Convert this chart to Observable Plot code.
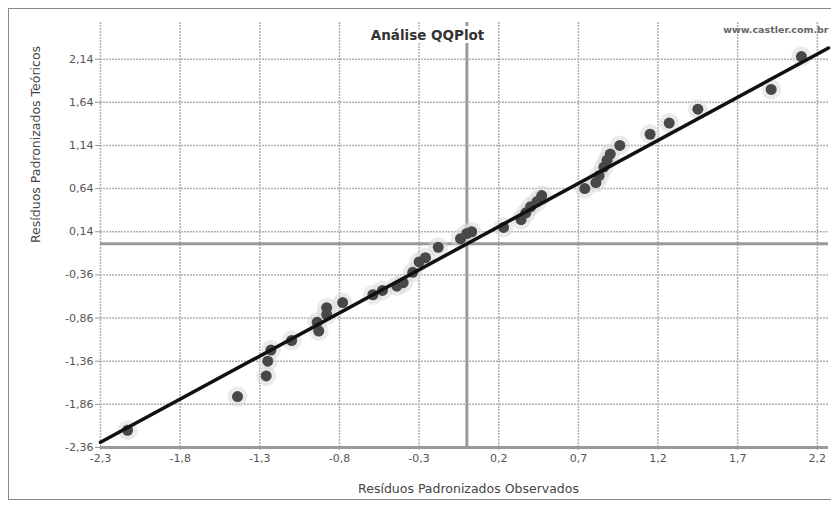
<!DOCTYPE html>
<html>
<head>
<meta charset="utf-8">
<script src="https://cdn.jsdelivr.net/npm/d3@7"></script>
<script src="https://cdn.jsdelivr.net/npm/@observablehq/plot@0.6"></script>
<style>
  body { margin: 0; background: #fff; }
  #wrap { position: relative; width: 831px; height: 508px; overflow: hidden; }
  #frame { position: absolute; left: 8px; top: 8px; width: 830px; height: 492px; border: 1px solid #8a8a8a; box-sizing: border-box; pointer-events: none; }
</style>
</head>
<body>
<div id="wrap"><div id="frame"></div></div>
<script>
const xTicks = [-2.3, -1.8, -1.3, -0.8, -0.3, 0.2, 0.7, 1.2, 1.7, 2.2];
const xTickLabels = ["-2,3", "-1,8", "-1,3", "-0,8", "-0,3", "0,2", "0,7", "1,2", "1,7", "2,2"];
const yTicks = [2.14, 1.64, 1.14, 0.64, 0.14, -0.36, -0.86, -1.36, -1.86, -2.36];
const yTickLabels = ["2,14", "1,64", "1,14", "0,64", "0,14", "-0,36", "-0,86", "-1,36", "-1,86", "-2,36"];

// Observed standardized residuals (x) vs theoretical (y)
const observed = [-2.13, -1.44, -1.26, -1.25, -1.23, -1.10, -0.93, -0.94, -0.88, -0.88,
                  -0.78, -0.59, -0.53, -0.44, -0.40, -0.34, -0.30, -0.26, -0.18, -0.04,
                   0.00,  0.03,  0.23,  0.34,  0.37,  0.40,  0.44,  0.47,  0.74,  0.81,
                   0.83,  0.86,  0.88,  0.90,  0.96,  1.15,  1.27,  1.45,  1.91,  2.10];
const theoretical = [-2.16, -1.77, -1.53, -1.36, -1.23, -1.12, -1.01, -0.91, -0.82, -0.74,
                     -0.68, -0.59, -0.54, -0.49, -0.45, -0.33, -0.21, -0.16, -0.04,  0.06,
                      0.12,  0.14,  0.19,  0.28,  0.36,  0.43,  0.49,  0.56,  0.64,  0.71,
                      0.79,  0.89,  0.97,  1.04,  1.14,  1.27,  1.40,  1.56,  1.79,  2.17];
const lineX = [-2.3, 2.27];
const lineY = [-2.3, 2.27];

const pts = observed.map((x, i) => ({x, y: theoretical[i]}));
const ref = lineX.map((x, i) => ({x, y: lineY[i]}));
const xLab = new Map(xTicks.map((t, i) => [t, xTickLabels[i]]));
const yLab = new Map(yTicks.map((t, i) => [t, yTickLabels[i]]));

const gridStyle = {stroke: "#b0b0b0", strokeOpacity: 1, strokeWidth: 1.5, strokeDasharray: "2,1"};

const chart = Plot.plot({
  width: 831,
  height: 508,
  marginLeft: 100,
  marginRight: 3,
  marginTop: 22,
  marginBottom: 61,
  style: {fontFamily: "DejaVu Sans", background: "transparent"},
  x: {domain: [-2.3, 2.27]},
  y: {domain: [-2.36, 2.565]},
  marks: [
    Plot.gridX(xTicks, gridStyle),
    Plot.gridY(yTicks, gridStyle),
    Plot.ruleX([0], {stroke: "#9a9a9a", strokeWidth: 3}),
    Plot.ruleY([0], {stroke: "#9a9a9a", strokeWidth: 3}),
    Plot.ruleY([-2.36], {stroke: "#9a9a9a", strokeWidth: 3}),
    Plot.dot(pts, {x: "x", y: "y", r: 10, fill: "#d8d8d8", fillOpacity: 0.5, stroke: "none"}),
    Plot.dot(pts, {x: "x", y: "y", r: 5.5, fill: "#484848", stroke: "none"}),
    Plot.line(ref, {x: "x", y: "y", stroke: "#111", strokeWidth: 3.5}),
    Plot.axisX({ticks: xTicks, tickFormat: d => xLab.get(d), tickSize: 3, tickPadding: 4, stroke: "#999", fill: "#555", fontSize: 11, label: null}),
    Plot.axisY({ticks: yTicks, tickFormat: d => yLab.get(d), tickSize: 5, tickPadding: 2, stroke: "#999", fill: "#555", fontSize: 11, label: null}),
    Plot.text(["Análise QQPlot"], {frameAnchor: "top", dx: -37, dy: 8, fontWeight: "bold", fontSize: 13.5, fill: "#333", stroke: "white", strokeWidth: 6}),
    Plot.text(["www.castler.com.br"], {frameAnchor: "top-right", textAnchor: "end", dx: 0, dy: 4, fontSize: 9.5, fontWeight: 600, fill: "#666"}),
    Plot.text(["Resíduos Padronizados Observados"], {frameAnchor: "bottom", dx: 4, dy: 45, fontSize: 12.5, fill: "#444"}),
    Plot.text(["Resíduos Padronizados Teóricos"], {frameAnchor: "left", dx: -65, dy: 8, rotate: -90, fontSize: 12.5, fill: "#444"})
  ]
});
document.getElementById("wrap").prepend(chart);
</script>
</body>
</html>
